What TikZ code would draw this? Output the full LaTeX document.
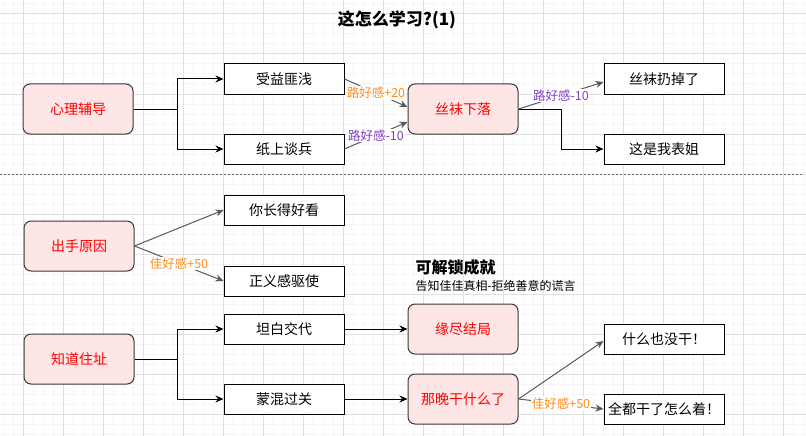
\documentclass[tikz,border=0pt]{standalone}
\usepackage{fontspec}
\setmainfont{Noto Sans CJK SC}
\usetikzlibrary{positioning, calc, arrows.meta}

\definecolor{pinkfill}{HTML}{FFE6E6}
\definecolor{boxline}{HTML}{36393D}
\definecolor{gainorange}{HTML}{FF8C1A}
\definecolor{losspurple}{HTML}{7F3FBF}

\begin{document}
\begin{tikzpicture}[x=1pt, y=-1pt,
	every node/.style={font=\fontsize{14}{16}\selectfont},
	choice/.style={draw=black, line width=1pt, fill=white, minimum width=120pt, minimum height=30pt, inner sep=0pt},
	event/.style={draw=boxline, line width=1pt, fill=pinkfill, rounded corners=7pt, minimum width=110pt, minimum height=50pt, inner sep=0pt, text=red},
	link/.style={line width=1pt, -{Stealth[length=8pt, width=7pt]}},
	slant/.style={link, draw=black!65},
	gain/.style={fill=white, inner sep=1pt, text=gainorange, font=\fontsize{12.5}{14}\selectfont},
	loss/.style={gain, text=losspurple},
	minorgrid/.style={draw=black!4, line width=1pt},
	majorgrid/.style={draw=black!12, line width=1pt},
	separator/.style={draw=black!60, line width=1pt, dash pattern=on 2pt off 2pt}]
\useasboundingbox (0,0) rectangle (806,436);
\fill[white] (0,0) rectangle (806,436);
\foreach \gx in {3,13,...,803} \draw[minorgrid] (\gx,0) -- (\gx,436);
\foreach \gy in {4,14,...,434} \draw[minorgrid] (0,\gy) -- (806,\gy);
\foreach \gx in {23,63,...,783} \draw[majorgrid] (\gx,0) -- (\gx,436);
\foreach \gy in {14,54,...,414} \draw[majorgrid] (0,\gy) -- (806,\gy);

\node[font=\fontsize{17}{20}\selectfont\bfseries] (title) at (397,20) {这怎么学习?(1)};

\node[event] (xl) at (78,109) {心理辅导};
\node[choice] (sy) at (284,79) {受益匪浅};
\node[choice] (zs) at (284,149) {纸上谈兵};
\node[event] (sw) at (463,109) {丝袜下落};
\node[choice] (rd) at (664,79) {丝袜扔掉了};
\node[choice] (bj) at (664,149) {这是我表姐};
\coordinate (xlsplit) at ($(xl.east)+(44,0)$);
\coordinate (swsplit) at ($(sw.east)+(43,0)$);
\draw[link] (xl.east) -- (xlsplit) |- (sy.west);
\draw[link] (xl.east) -- (xlsplit) |- (zs.west);
\draw[slant] (sy.east) -- node[gain] (syl) {路好感+20} ([yshift=2pt]sw.west);
\draw[slant] (zs.east) -- node[loss] (zsl) {路好感-10} ([yshift=-13pt]sw.west);
\draw[slant] (sw.east) -- node[loss] (rdl) {路好感-10} ([yshift=-3pt]rd.west);
\draw[link] (sw.east) -- (swsplit) |- (bj.west);

\coordinate (sepl) at (0,174);
\coordinate (sepr) at (804,174);
\draw[separator] (sepl) -- (sepr);

\node[event] (cs) at (79,246) {出手原因};
\node[choice] (zk) at (284,210) {你长得好看};
\node[choice] (zy) at (284,281) {正义感驱使};
\draw[slant] (cs.east) -- (zk.west);
\draw[slant] (cs.east) -- node[gain] (zyl) {佳好感+50} (zy.west);

\node[anchor=west, font=\fontsize{16}{18}\selectfont\bfseries] (cj) at (412,267) {可解锁成就};
\node[anchor=west, font=\fontsize{12}{14}\selectfont] (cjd) at (412,286) {告知佳佳真相-拒绝善意的谎言};

\node[event] (zd) at (79,359) {知道住址};
\node[choice] (tb) at (284,329) {坦白交代};
\node[choice] (mh) at (284,399) {蒙混过关};
\node[event] (yj) at (463,329) {缘尽结局};
\node[event] (nw) at (463,399) {那晚干什么了};
\node[choice] (mg) at (664,339) {什么也没干！};
\node[choice] (qd) at (664,409) {全都干了怎么着！};
\coordinate (zdsplit) at ($(zd.east)+(43,0)$);
\draw[link] (zd.east) -- (zdsplit) |- (tb.west);
\draw[link] (zd.east) -- (zdsplit) |- (mh.west);
\draw[link] (tb) -- (yj);
\draw[link] (mh) -- (nw);
\draw[slant] (nw.east) -- ([yshift=-2pt]mg.west);
\draw[slant] (nw.east) -- node[gain] (qdl) {佳好感+50} (qd.west);
\end{tikzpicture}
\end{document}
